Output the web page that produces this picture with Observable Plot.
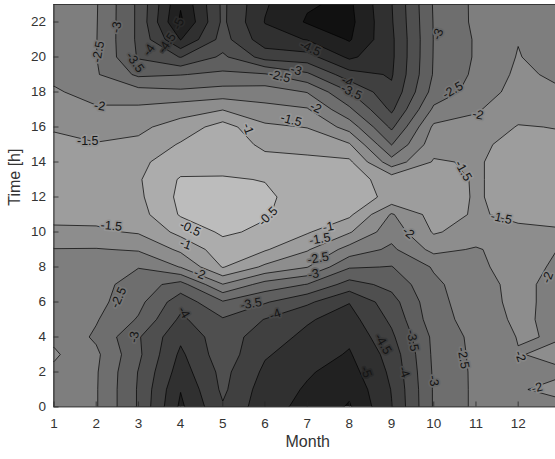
<!DOCTYPE html>
<html>
<head>
<meta charset="utf-8">
<script src="https://cdn.jsdelivr.net/npm/d3@7"></script>
<script src="https://cdn.jsdelivr.net/npm/@observablehq/plot@0.6"></script>
<style>
  html, body { margin: 0; padding: 0; background: #ffffff; }
  #chart svg { display: block; }
</style>
</head>
<body>
<div id="chart"></div>
<script>
// Grid: months 1..13 (columns) x hours 0..23 (values listed from hour 0 up to hour 23)
const months = [1, 2, 3, 4, 5, 6, 7, 8, 9, 10, 11, 12, 13];
const hours = d3.range(0, 24);

const m1  = [-2.2, -2.2, -2.1, -1.93, -2.1, -2.2, -2.2, -2.15, -2.1, -2.02, -1.6, -1.35, -1.3, -1.3, -1.35, -1.45, -1.52, -1.75, -1.95, -2.1, -2.2, -2.25, -2.3, -2.3];
const m2  = [-2.46, -2.46, -2.45, -2.4, -2.58, -2.46, -2.35, -2.3, -2.2, -2.03, -1.58, -1.35, -1.25, -1.25, -1.3, -1.47, -1.7, -1.95, -2.15, -2.45, -2.49, -2.48, -2.47, -2.46];
const m3  = [-3.55, -3.55, -3.52, -3.4, -3.45, -3.05, -2.85, -2.75, -2.48, -1.95, -1.45, -1.2, -1.1, -1.05, -1.1, -1.4, -1.6, -1.9, -2.3, -3.1, -3.55, -3.6, -3.6, -3.6];
const m4  = [-5.1, -4.98, -4.75, -4.6, -4.4, -4.1, -3.8, -3.2, -1.98, -1.4, -0.85, -0.45, -0.38, -0.45, -0.75, -0.95, -1.3, -1.7, -2.4, -3.02, -4.02, -5.02, -5.6, -5.45];
const m5  = [-4.05, -3.9, -3.85, -3.7, -3.7, -3.55, -3.05, -2.02, -0.97, -0.72, -0.42, -0.35, -0.3, -0.45, -0.7, -0.72, -0.78, -1.52, -2.3, -2.9, -3.4, -3.8, -3.9, -3.9];
const m6  = [-4.8, -4.75, -4.6, -4.45, -4.3, -4.02, -3.45, -2.7, -1.6, -0.95, -0.6, -0.45, -0.4, -0.52, -0.85, -1.1, -1.4, -1.85, -2.25, -2.95, -4.2, -4.8, -5.02, -4.95];
const m7  = [-5.15, -5.05, -4.95, -4.75, -4.6, -4.45, -3.9, -3.02, -1.98, -1.45, -0.95, -0.8, -0.75, -0.8, -0.9, -1.15, -1.52, -1.95, -2.52, -3.4, -4.3, -5.02, -5.55, -5.45];
const m8  = [-5.55, -5.4, -5.2, -5.05, -4.9, -4.7, -4.48, -3.7, -2.95, -2.2, -1.45, -0.9, -0.8, -0.8, -0.9, -1.45, -2.2, -2.9, -3.48, -4.3, -5.1, -5.55, -5.65, -5.6];
const m9  = [-4.52, -4.48, -4.4, -4.3, -4.1, -3.9, -3.7, -3.35, -3.02, -2.6, -2.3, -2.05, -1.1, -1.2, -2.3, -3.02, -3.6, -4.1, -4.4, -4.55, -4.6, -4.6, -4.55, -4.52];
const m10 = [-2.95, -2.95, -2.93, -2.9, -2.88, -2.7, -2.65, -2.6, -2.45, -1.85, -1.45, -1.3, -1.2, -1.25, -1.45, -1.7, -1.9, -2.4, -2.8, -2.95, -2.97, -2.98, -2.97, -2.95];
const m11 = [-2.4, -2.4, -2.4, -2.38, -2.35, -2.3, -2.25, -2.2, -2.1, -2.05, -1.7, -1.55, -1.55, -1.55, -1.55, -1.6, -1.85, -2.05, -2.3, -2.4, -2.45, -2.45, -2.4, -2.4];
const m12 = [-2.1, -2.03, -2.05, -2.02, -1.98, -1.9, -1.85, -1.85, -1.8, -1.75, -1.6, -1.4, -1.3, -1.3, -1.3, -1.35, -1.47, -1.7, -1.8, -1.9, -1.97, -2.02, -2.1, -2.15];
const m13 = [-2.1, -1.9, -2.05, -1.9, -2.02, -2.15, -2.2, -2.2, -2.1, -2.02, -1.55, -1.35, -1.3, -1.3, -1.35, -1.4, -1.52, -1.7, -1.95, -2.1, -2.3, -2.35, -2.4, -2.4];

const columns = [m1, m2, m3, m4, m5, m6, m7, m8, m9, m10, m11, m12, m13];

// contour levels
const levels = [-6, -5.5, -5, -4.5, -4, -3.5, -3, -2.5, -2, -1.5, -1, -0.5];

// tick labels
const xTicks = [1, 2, 3, 4, 5, 6, 7, 8, 9, 10, 11, 12];
const yTicks = [0, 2, 4, 6, 8, 10, 12, 14, 16, 18, 20, 22];

// contour labels: value, month, hour, rotation
const contourLabels = [
  [-3, 2.48, 21.7, -80], [-2.5, 2.05, 20.3, -80], [-3.5, 2.92, 19.7, 55], [-4, 3.25, 20.4, -55],
  [-4.5, 3.68, 20.8, -55], [-5, 3.95, 21.9, -65], [-2, 2.08, 17.2, 8], [-1.5, 1.8, 15.2, 0],
  [-1, 5.6, 15.9, 70], [-1.5, 6.62, 16.4, 15], [-2, 7.2, 17.1, 25], [-2.5, 6.35, 18.9, 15],
  [-3, 6.74, 19.25, 15], [-4.5, 7.07, 20.5, 25], [-4, 7.95, 18.6, 25], [-3.5, 8.05, 18.0, 25],
  [-3, 10.1, 21.3, -70], [-2.5, 10.45, 18.1, -30], [-2, 11.05, 16.7, 12], [-1.5, 10.7, 13.5, 60],
  [-1.5, 11.6, 10.8, 12], [-2, 12.7, 7.4, -70], [-2, 12.05, 2.9, 70], [-2, 12.45, 1.1, -15],
  [-2.5, 10.7, 2.8, 80], [-3, 10.0, 1.5, 80], [-3.5, 9.5, 3.8, 80], [-4, 9.3, 2.0, 70],
  [-4.5, 8.8, 3.6, 60], [-5, 8.4, 2.0, 70], [-2, 9.4, 9.95, 40], [-1, 7.5, 10.3, -10],
  [-1.5, 7.3, 9.6, -10], [-2.5, 7.26, 8.5, -10], [-3, 7.15, 7.6, -10], [-0.5, 4.23, 10.2, 25],
  [-1, 4.12, 9.3, 20], [-0.5, 6.07, 10.9, -45], [-2, 4.45, 7.6, 20], [-3.5, 5.67, 5.9, -10],
  [-4, 6.24, 5.3, -20], [-4, 4.08, 5.4, 60], [-2.5, 2.53, 6.25, -65], [-3, 2.9, 4.0, -80],
  [-1.5, 2.36, 10.35, 5]
].map(([v, m, h, r]) => ({v, m, h, r}));

// row-major grid: row j = hour j, column i = month i+1
const grid = [];
for (let j = 0; j < hours.length; j++) {
  for (let i = 0; i < months.length; i++) grid.push(columns[i][j]);
}

const W = 555, H = 459;
const mL = 53.5, mR = 0, mT = 4, mB = 52.5;
const frameW = W - mL - mR, frameH = H - mT - mB;

const chart = Plot.plot({
  width: W,
  height: H,
  marginLeft: mL,
  marginRight: mR,
  marginTop: mT,
  marginBottom: mB,
  style: {fontFamily: "'Liberation Sans', Arial, sans-serif", fontSize: "13.5px", color: "#333333", background: "#ffffff"},
  x: {domain: [1, 12.885], ticks: xTicks, tickSize: 0, tickPadding: 11, label: null},
  y: {domain: [0, 23], ticks: yTicks, tickSize: 0, tickPadding: 8, label: null},
  color: {type: "linear", domain: [-6, -0.5], range: ["#111111", "#bcbcbc"]},
  marks: [
    Plot.contour(grid, {
      width: months.length,
      height: hours.length,
      x1: 0.5, x2: 13.5, y1: -0.5, y2: 23.5,
      thresholds: levels,
      fill: Plot.identity,
      stroke: "#000000",
      strokeWidth: 0.7,
      clip: true
    }),
    Plot.text(contourLabels, {
      x: "m", y: "h", text: d => String(d.v), rotate: "r",
      fontSize: 12.5, fill: "#141414",
      stroke: d => d.v - 0.25, strokeWidth: 3.5,
      clip: true
    }),
    Plot.ruleX(xTicks, {stroke: "#262626", strokeWidth: 0.8, insetTop: frameH - 5}),
    Plot.ruleY(yTicks, {stroke: "#262626", strokeWidth: 0.8, insetRight: frameW - 5}),
    Plot.ruleY([0], {stroke: "#262626", strokeWidth: 0.8}),
    Plot.ruleY([23], {stroke: "#262626", strokeWidth: 0.8}),
    Plot.ruleX([1], {stroke: "#262626", strokeWidth: 0.8}),
    Plot.text(["Month"], {frameAnchor: "bottom", dy: 40, dx: 3, fontSize: 16, fill: "#333333"}),
    Plot.text(["Time [h]"], {frameAnchor: "left", dx: -39, rotate: -90, fontSize: 16, fill: "#333333"})
  ]
});

document.getElementById("chart").appendChild(chart);
</script>
</body>
</html>
